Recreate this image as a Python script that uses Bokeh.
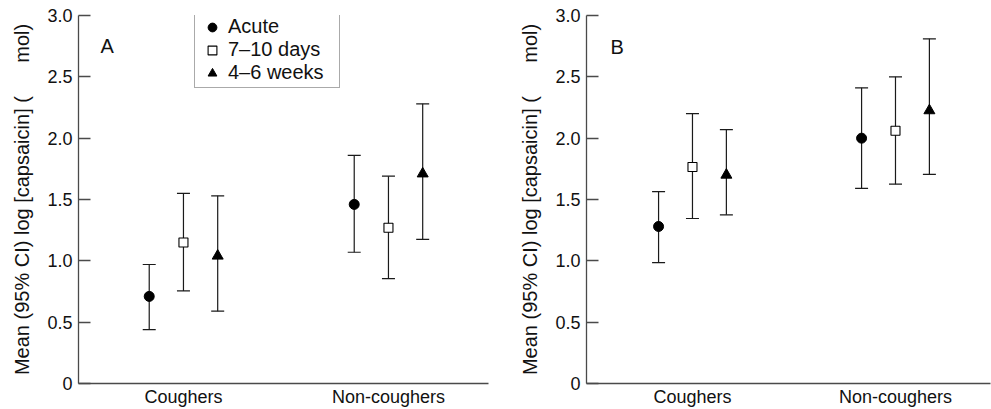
from bokeh.plotting import figure
from bokeh.models import Range1d, FixedTicker, Legend, LegendItem, Label
from bokeh.layouts import row
from bokeh.embed import file_html
from bokeh.resources import INLINE

# ---------------- data ----------------
groups = ["Coughers", "Non-coughers"]
series = ["Acute", "7\u201310 days", "4\u20136 weeks"]

# Panel A
a_acute_mean = [0.71, 1.46]
a_acute_lower = [0.44, 1.07]
a_acute_upper = [0.97, 1.86]
a_d710_mean = [1.15, 1.27]
a_d710_lower = [0.755, 0.855]
a_d710_upper = [1.55, 1.69]
a_w46_mean = [1.04, 1.71]
a_w46_lower = [0.59, 1.175]
a_w46_upper = [1.53, 2.28]

# Panel B
b_acute_mean = [1.28, 2.00]
b_acute_lower = [0.985, 1.59]
b_acute_upper = [1.565, 2.41]
b_d710_mean = [1.765, 2.06]
b_d710_lower = [1.345, 1.625]
b_d710_upper = [2.20, 2.50]
b_w46_mean = [1.70, 2.225]
b_w46_lower = [1.375, 1.705]
b_w46_upper = [2.07, 2.81]

y_ticks = [0, 0.5, 1.0, 1.5, 2.0, 2.5, 3.0]
y_tick_labels = ["0", "0.5", "1.0", "1.5", "2.0", "2.5", "3.0"]
y_label = "Mean (95% CI) log [capsaicin] (" + "\u00a0" * 6 + "mol)"

FONT = "Liberation Sans"
AXIS_COLOR = "#4a4a4a"
BAR_COLOR = "#1a1a1a"
TEXT_COLOR = "#111111"
OFFSET = 0.167

marker_styles = [
    dict(marker="circle", size=10, fill_color="black", line_color="black"),
    dict(marker="square", size=9, fill_color="white", line_color="black", line_width=1.1),
    dict(marker="triangle", size=11, fill_color="black", line_color="black"),
]


def make_panel(width, border_left, border_right, xlo, xhi, data, letter, letter_xy):
    p = figure(width=width, height=409, x_range=Range1d(xlo, xhi), y_range=Range1d(0, 3),
               output_backend="svg", toolbar_location=None,
               min_border_left=border_left, min_border_right=border_right,
               min_border_top=15, min_border_bottom=26)
    p.outline_line_color = None
    p.grid.visible = False
    p.background_fill_color = "white"
    p.border_fill_color = "white"

    # y axis
    ya = p.yaxis[0]
    ya.ticker = FixedTicker(ticks=y_ticks)
    ya.major_label_overrides = dict(zip(y_ticks, y_tick_labels))
    ya.major_tick_in = 12
    ya.major_tick_out = 0
    ya.minor_tick_line_color = None
    ya.major_label_standoff = 6
    ya.axis_line_color = AXIS_COLOR
    ya.axis_line_width = 1.3
    ya.major_tick_line_color = AXIS_COLOR
    ya.major_tick_line_width = 1.3
    ya.major_label_text_font = FONT
    ya.major_label_text_font_size = "18px"
    ya.major_label_text_color = TEXT_COLOR
    ya.axis_label = y_label
    ya.axis_label_text_font = FONT
    ya.axis_label_text_font_size = "20px"
    ya.axis_label_text_font_style = "normal"
    ya.axis_label_text_color = TEXT_COLOR
    ya.axis_label_standoff = 11

    # x axis
    xa = p.xaxis[0]
    xa.ticker = FixedTicker(ticks=[1, 2])
    xa.major_label_overrides = {1: groups[0], 2: groups[1]}
    xa.major_tick_in = 0
    xa.major_tick_out = 0
    xa.major_tick_line_color = None
    xa.minor_tick_line_color = None
    xa.major_label_standoff = 3
    xa.axis_line_color = AXIS_COLOR
    xa.axis_line_width = 1.3
    xa.major_label_text_font = FONT
    xa.major_label_text_font_size = "18px"
    xa.major_label_text_color = TEXT_COLOR

    renderers = []
    offsets = [-OFFSET, 0.0, OFFSET]
    for k, (mean, lower, upper) in enumerate(data):
        xs = [g + 1 + offsets[k] for g in range(len(groups))]
        p.segment(x0=xs, y0=lower, x1=xs, y1=upper, line_color=BAR_COLOR, line_width=1.2)
        p.scatter(xs, upper, marker="dash", size=13, line_color=BAR_COLOR, line_width=1.2)
        p.scatter(xs, lower, marker="dash", size=13, line_color=BAR_COLOR, line_width=1.2)
        r = p.scatter(xs, mean, **marker_styles[k])
        renderers.append(r)

    p.add_layout(Label(x=letter_xy[0], y=letter_xy[1], text=letter, text_font=FONT,
                       text_font_size="20px", text_color=TEXT_COLOR,
                       text_align="left", text_baseline="alphabetic"))
    return p, renderers


data_a = [(a_acute_mean, a_acute_lower, a_acute_upper),
          (a_d710_mean, a_d710_lower, a_d710_upper),
          (a_w46_mean, a_w46_lower, a_w46_upper)]
data_b = [(b_acute_mean, b_acute_lower, b_acute_upper),
          (b_d710_mean, b_d710_lower, b_d710_upper),
          (b_w46_mean, b_w46_lower, b_w46_upper)]

pA, rA = make_panel(498, 78, 10, 0.488, 2.488, data_a, "A", (0.595, 2.75))
pB, rB = make_panel(493, 88, 1, 0.478, 2.468, data_b, "B", (0.596, 2.74))

legend = Legend(items=[LegendItem(label=series[i], renderers=[rA[i]]) for i in range(3)],
                location=(116, 295))
legend.label_text_font = FONT
legend.label_text_font_size = "20px"
legend.label_text_color = TEXT_COLOR
legend.border_line_color = "#555555"
legend.border_line_width = 1.2
legend.background_fill_color = "white"
legend.background_fill_alpha = 1.0
legend.padding = 3
legend.spacing = 0
legend.margin = 0
legend.glyph_width = 28
legend.glyph_height = 22
legend.label_height = 22
legend.label_standoff = 2
legend.label_width = 108
pA.add_layout(legend)

layout = row(pA, pB)
open("out.html", "w").write(file_html(layout, INLINE))
